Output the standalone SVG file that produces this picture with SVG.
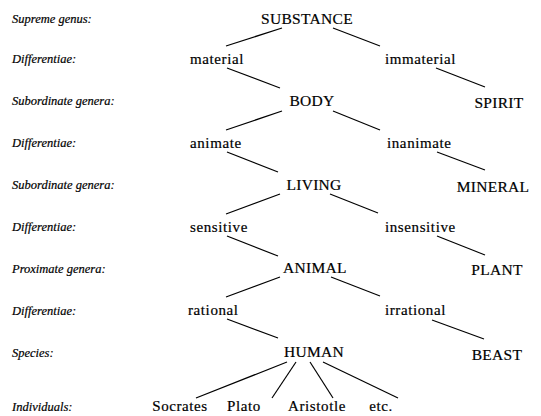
<svg xmlns="http://www.w3.org/2000/svg" width="541" height="416" viewBox="0 0 541 416">
<style>
text{font-family:"Liberation Serif","DejaVu Serif",serif;fill:#000;stroke:#000;stroke-width:0.2}
.lab{font-style:italic;font-size:12.5px}
.up{font-size:15.5px;text-anchor:middle;letter-spacing:0.3px}
.lo{font-size:15px;letter-spacing:0.6px}
.c line{stroke:#000;stroke-width:1.2}
</style>
<rect width="541" height="416" fill="#fff"/>
<g id="labels">
<text class="lab" x="12" y="23">Supreme genus:</text>
<text class="lab" x="12" y="63">Differentiae:</text>
<text class="lab" x="12" y="105">Subordinate genera:</text>
<text class="lab" x="12" y="147">Differentiae:</text>
<text class="lab" x="12" y="189">Subordinate genera:</text>
<text class="lab" x="12" y="231">Differentiae:</text>
<text class="lab" x="12" y="273">Proximate genera:</text>
<text class="lab" x="12" y="315">Differentiae:</text>
<text class="lab" x="12" y="357">Species:</text>
<text class="lab" x="12" y="411">Individuals:</text>
</g>
<g id="substance"><text class="up" x="307" y="24">SUBSTANCE</text></g>
<g id="material"><text class="lo" x="190" y="64">material</text></g>
<g id="immaterial"><text class="lo" x="385" y="64">immaterial</text></g>
<g id="body"><text class="up" x="312" y="106">BODY</text></g>
<g id="spirit"><text class="up" x="499" y="108">SPIRIT</text></g>
<g id="animate"><text class="lo" x="190" y="148">animate</text></g>
<g id="inanimate"><text class="lo" x="387" y="148">inanimate</text></g>
<g id="living"><text class="up" x="314" y="190">LIVING</text></g>
<g id="mineral"><text class="up" x="493" y="192">MINERAL</text></g>
<g id="sensitive"><text class="lo" x="190" y="232">sensitive</text></g>
<g id="insensitive"><text class="lo" x="385" y="232">insensitive</text></g>
<g id="animal"><text class="up" x="315" y="273">ANIMAL</text></g>
<g id="plant"><text class="up" x="497" y="275">PLANT</text></g>
<g id="rational"><text class="lo" x="188" y="315">rational</text></g>
<g id="irrational"><text class="lo" x="385" y="315">irrational</text></g>
<g id="human"><text class="up" x="314" y="357">HUMAN</text></g>
<g id="beast"><text class="up" x="497" y="360">BEAST</text></g>
<g id="socrates"><text class="lo" x="180" y="411" text-anchor="middle">Socrates</text></g>
<g id="plato"><text class="lo" x="244" y="411" text-anchor="middle">Plato</text></g>
<g id="aristotle"><text class="lo" x="317" y="411" text-anchor="middle">Aristotle</text></g>
<g id="etc"><text class="lo" x="381" y="411" text-anchor="middle">etc.</text></g>
<g id="connectors" class="c">
<line x1="282" y1="28" x2="226" y2="46"/>
<line x1="333" y1="28" x2="380" y2="46"/>
<line x1="227" y1="68" x2="280" y2="88"/>
<line x1="436" y1="68" x2="485" y2="87"/>
<line x1="282" y1="111" x2="226" y2="130"/>
<line x1="333" y1="111" x2="380" y2="130"/>
<line x1="227" y1="152" x2="278" y2="172"/>
<line x1="437" y1="152" x2="485" y2="170"/>
<line x1="280" y1="194" x2="226" y2="214"/>
<line x1="330" y1="194" x2="378" y2="213"/>
<line x1="227" y1="236" x2="278" y2="256"/>
<line x1="437" y1="236" x2="485" y2="255"/>
<line x1="280" y1="277" x2="226" y2="297"/>
<line x1="331" y1="277" x2="380" y2="296"/>
<line x1="227" y1="319" x2="278" y2="338"/>
<line x1="432" y1="320" x2="484" y2="339"/>
<line x1="287" y1="362" x2="196" y2="398"/>
<line x1="296" y1="362" x2="272" y2="398"/>
<line x1="310" y1="362" x2="333" y2="398"/>
<line x1="323" y1="362" x2="398" y2="398"/>
</g>
</svg>
